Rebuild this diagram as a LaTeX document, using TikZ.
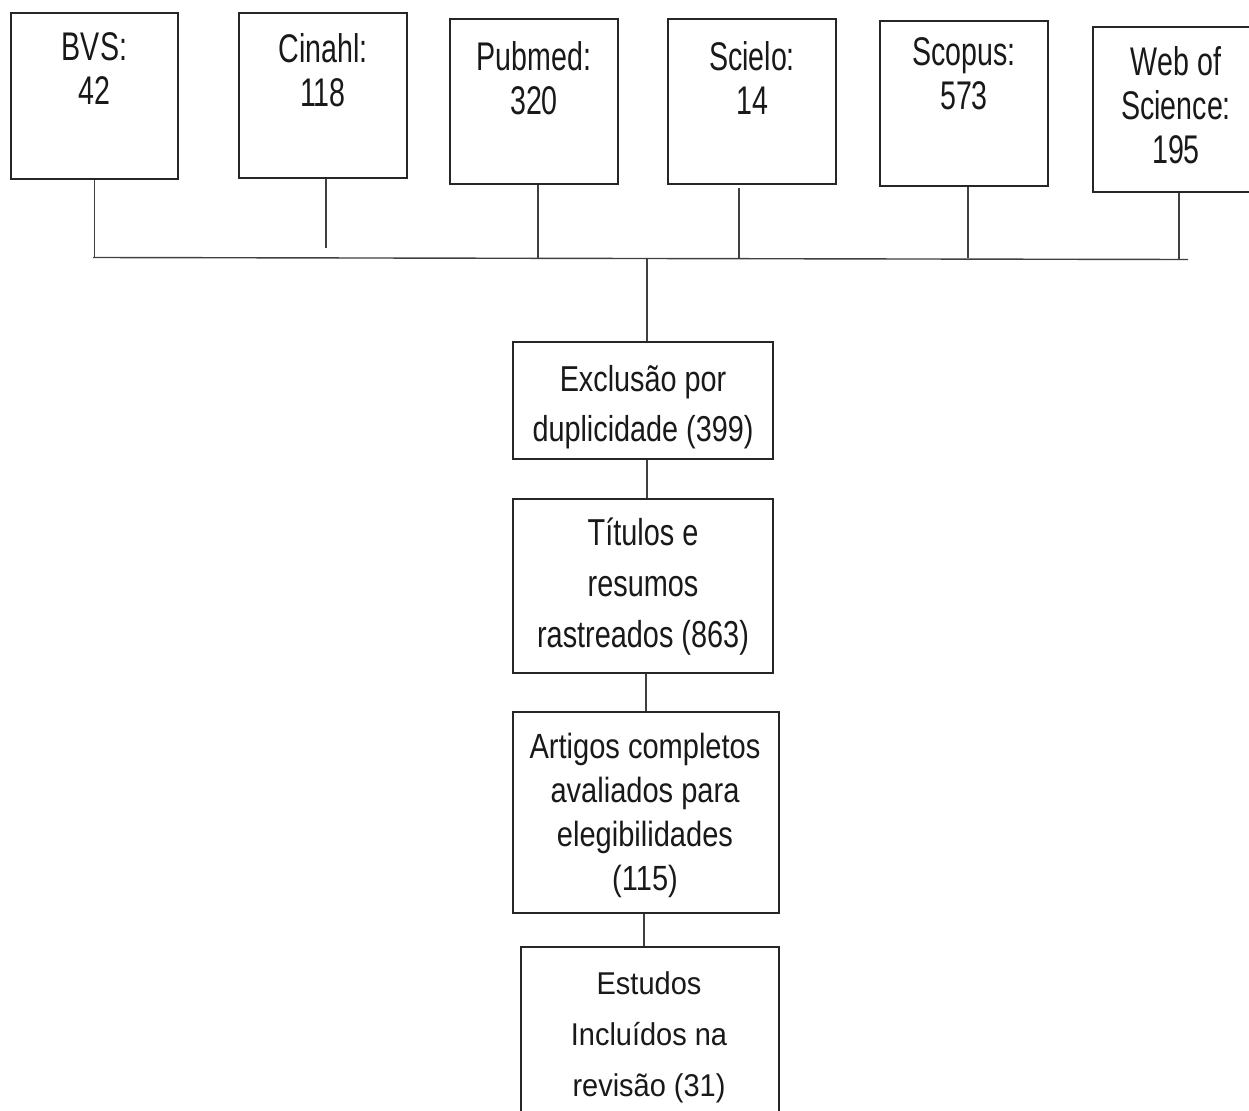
\documentclass[tikz,border=0pt]{standalone}
\usepackage{fontspec}
\setmainfont{Liberation Sans}
\newfontfamily\fTop[FakeStretch=0.715]{Liberation Sans}
\newfontfamily\fExc[FakeStretch=0.80]{Liberation Sans}
\newfontfamily\fTit[FakeStretch=0.77]{Liberation Sans}
\newfontfamily\fArt[FakeStretch=0.83]{Liberation Sans}
\newfontfamily\fEst[FakeStretch=0.92]{Liberation Sans}
\begin{document}
\begin{tikzpicture}[x=1pt,y=-1pt,
  box/.style={draw=black!85, line width=1.6pt, inner sep=0pt, fill=none},
  txt/.style={inner sep=0pt, anchor=north, align=center, text=black!90},
  topfont/.style={font={\fTop\fontsize{40}{44}\selectfont}},
  conn/.style={draw=black!75, line width=1.4pt}
]
\useasboundingbox (0,0) rectangle (1249,1110);
\fill[white] (0,0) rectangle (1249,1110);

% source boxes
\node[box, minimum width=167pt, minimum height=166pt] (bvs) at (94.5,96) {};
\node[box, minimum width=168pt, minimum height=165pt] (cin) at (323,95.5) {};
\node[box, minimum width=168pt, minimum height=165pt] (pub) at (534,101.5) {};
\node[box, minimum width=168pt, minimum height=165pt] (sci) at (752,101.5) {};
\node[box, minimum width=168pt, minimum height=165pt] (sco) at (964,103.5) {};
\node[box, minimum width=168pt, minimum height=165pt] (wos) at (1177,109.5) {};

\node[txt, topfont] (tbvs) at (94.5,32) {BVS:\\42};
\node[txt, topfont] (tcin) at (323,33) {Cinahl:\\118};
\node[txt, topfont] (tpub) at (534,41) {Pubmed:\\320};
\node[txt, topfont] (tsci) at (752,41) {Scielo:\\14};
\node[txt, topfont] (tsco) at (964,37) {Scopus:\\573};
\node[txt, topfont] (twos) at (1176,46) {Web of\\Science:\\195};

% flow boxes
\node[box, minimum width=260pt, minimum height=117pt] (exc) at (643,400.5) {};
\node[box, minimum width=260pt, minimum height=174pt] (tit) at (643,586) {};
\node[box, minimum width=266pt, minimum height=201pt] (art) at (646,812.5) {};
\node[box, minimum width=258pt, minimum height=180pt] (est) at (650,1037) {};

\node[txt, font={\fExc\fontsize{36}{50}\selectfont}] (texc) at (643,365) {Exclusão por\\duplicidade (399)};
\node[txt, font={\fTit\fontsize{37.5}{51}\selectfont}] (ttit) at (643,518) {Títulos e\\resumos\\rastreados (863)};
\node[txt, font={\fArt\fontsize{35}{44}\selectfont}] (tart) at (645,733) {Artigos completos\\avaliados para\\elegibilidades\\(115)};
\node[txt, font={\fEst\fontsize{31.5}{51}\selectfont}] (test) at (649,971) {Estudos\\Incluídos na\\revisão (31)};

% horizontal collector line
\coordinate (hl) at (93,257.5);
\coordinate (hr) at (1188,259.5);
\coordinate (cinend) at (326,248);
\draw[conn] (hl) -- (hr);

\draw[conn] (bvs.south) -- (bvs.south |- hl);
\draw[conn] ([xshift=3pt]cin.south) -- (cinend);
\draw[conn] ([xshift=4pt]pub.south) -- ([xshift=4pt]pub.south |- hl);
\draw[conn] ([xshift=-13pt,yshift=-3pt]sci.south) -- ([xshift=-13pt]sci.south |- hl);
\draw[conn] ([xshift=4pt]sco.south) -- ([xshift=4pt]sco.south |- hl);
\draw[conn] ([xshift=2pt]wos.south) -- ([xshift=2pt,yshift=1pt]wos.south |- hr);

% central flow
\draw[conn] ([xshift=4pt]exc.north |- hl) -- ([xshift=4pt]exc.north);
\draw[conn] ([xshift=4pt]exc.south) -- ([xshift=4pt]tit.north);
\draw[conn] ([xshift=3pt]tit.south) -- ([xshift=0pt]art.north);
\draw[conn] ([xshift=-2pt]art.south) -- ([xshift=-6pt]est.north);
\end{tikzpicture}
\end{document}
